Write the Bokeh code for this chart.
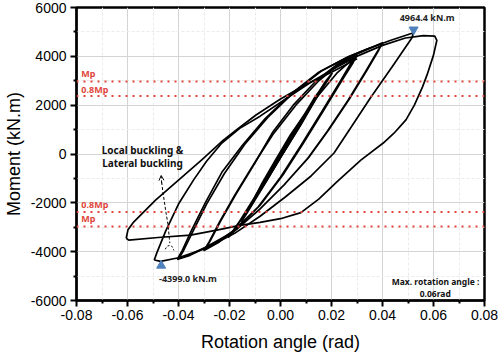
from bokeh.plotting import figure
from bokeh.models import FixedTicker, NumeralTickFormatter, Span, ColumnDataSource, Arrow, OpenHead, Range1d
from bokeh.embed import file_html
from bokeh.resources import INLINE
from bokeh.core.properties import value

# ---------------- data ----------------
x_ticks = [-0.08, -0.06, -0.04, -0.02, 0.0, 0.02, 0.04, 0.06, 0.08]
x_minor = [-0.07, -0.05, -0.03, -0.01, 0.01, 0.03, 0.05, 0.07]
y_ticks = [-6000, -4000, -2000, 0, 2000, 4000, 6000]
y_minor = [-5000, -3000, -1000, 1000, 3000, 5000]

mp = 2965.0
mp_levels = [mp, 0.8 * mp, -0.8 * mp, -mp]

# hysteresis cycles (rotation rad, moment kN.m)
c1_rot = [0.0, 0.0038, 0.0008, -0.0038, -0.0008, 0.0052, 0.0012, -0.0052, -0.0010, 0.0075, 0.0020, -0.0075, -0.0012]
c1_mom = [0, 650, 120, -680, -130, 880, 180, -900, -150, 1280, 280, -1300, -180]

c2_rot = [-0.0012, 0.004, 0.0085, 0.0102, 0.009, 0.004, -0.002, -0.007, -0.0102, -0.009, -0.004, 0.002, 0.007, 0.0100, 0.0088, 0.0035, -0.0025, -0.0075, -0.0100, -0.0088, -0.0035]
c2_mom = [-180, 720, 1480, 1720, 1560, 800, -250, -1150, -1800, -1620, -800, 200, 1100, 1680, 1500, 700, -350, -1250, -1780, -1580, -700]

c3_rot = [-0.0035, 0.002, 0.008, 0.013, 0.0152, 0.0135, 0.007, 0.0, -0.006, -0.011, -0.0152, -0.0135, -0.007, 0.0, 0.007, 0.0125, 0.0150, 0.0132, 0.0065, -0.0005, -0.0065, -0.0115, -0.0150, -0.0132, -0.006]
c3_mom = [-700, 250, 1300, 2150, 2500, 2280, 1150, -100, -1100, -2000, -2750, -2480, -1350, -150, 1050, 2050, 2450, 2220, 1050, -200, -1200, -2100, -2720, -2430, -1200]

c4_rot = [-0.006, 0.0, 0.008, 0.015, 0.0202, 0.018, 0.011, 0.003, -0.006, -0.014, -0.0203, -0.018, -0.011, -0.003, 0.005, 0.013, 0.0198, 0.0175, 0.0105, 0.0025, -0.0065, -0.0145, -0.0198, -0.0175, -0.010]
c4_mom = [-1200, -150, 1200, 2450, 3300, 3020, 1900, 450, -1150, -2450, -3400, -3100, -1950, -550, 850, 2250, 3250, 2950, 1800, 350, -1250, -2550, -3350, -3000, -1750]

c5_rot = [-0.010, -0.003, 0.006, 0.014, 0.022, 0.030, 0.0285, 0.024, 0.017, 0.009, 0.001, -0.008, -0.017, -0.024, -0.030, -0.028, -0.024, -0.018, -0.011, -0.003, 0.006, 0.015, 0.022, 0.029, 0.0275, 0.023, 0.016, 0.008, 0.0, -0.009, -0.018, -0.0245, -0.0295, -0.0275, -0.0235, -0.0175, -0.0105]
c5_mom = [-1750, -500, 1000, 2300, 3300, 4050, 3750, 3000, 1800, 450, -850, -2100, -3050, -3600, -3950, -3600, -2800, -1700, -500, 800, 2000, 3000, 3600, 4000, 3700, 2900, 1700, 350, -950, -2200, -3100, -3600, -3900, -3550, -2750, -1650, -450]

c6_rot = [-0.0105, -0.003, 0.005, 0.014, 0.022, 0.030, 0.040, 0.0385, 0.034, 0.027, 0.019, 0.011, 0.002, -0.008, -0.018, -0.029, -0.035, -0.040, -0.038, -0.0345, -0.029, -0.022, -0.014, -0.005, 0.005, 0.016, 0.027, 0.034, 0.040, 0.038, 0.0335, 0.0265, 0.0185, 0.0105, 0.0015, -0.0085, -0.0185, -0.0295, -0.0355, -0.0405]
c6_mom = [-450, 900, 2000, 3000, 3650, 4100, 4550, 4250, 3450, 2250, 1000, -150, -1200, -2250, -3150, -3800, -4100, -4300, -3950, -3200, -2050, -800, 400, 1500, 2500, 3400, 4000, 4300, 4530, 4200, 3400, 2200, 950, -200, -1250, -2300, -3200, -3850, -4150, -4320]

c7_rot = [-0.0405, -0.0385, -0.035, -0.0295, -0.023, -0.015, -0.006, 0.004, 0.015, 0.026, 0.034, 0.043, 0.0522, 0.0515, 0.044, 0.0353, 0.028, 0.021, 0.012, 0.002, -0.008, -0.018, -0.029, -0.040, -0.047, -0.0495]
c7_mom = [-4320, -3950, -3150, -2000, -750, 350, 1450, 2450, 3350, 3950, 4300, 4650, 4964.4, 4750, 3600, 2300, 1150, 40, -900, -1750, -2550, -3250, -3850, -4250, -4399.0, -4340]

c8_rot = [-0.0495, -0.0485, -0.045, -0.040, -0.034, -0.029, -0.023, -0.016, -0.008, 0.002, 0.012, 0.022, 0.031, 0.040, 0.049, 0.056, 0.0605, 0.0613, 0.0600, 0.0575, 0.0557, 0.0525, 0.0492, 0.0445, 0.0403, 0.0315, 0.022, 0.015, 0.008, 0.0, -0.008, -0.016, -0.025, -0.0353, -0.048, -0.0595, -0.0605]
c8_mom = [-4340, -4050, -3150, -2050, -1050, -300, 450, 1050, 1550, 2250, 2950, 3550, 4050, 4450, 4750, 4850, 4830, 4650, 4050, 3250, 2750, 2000, 1400, 850, 450, -250, -1150, -1850, -2400, -2650, -2800, -2920, -3115, -3320, -3420, -3525, -3450]

c9_rot = [-0.0605, -0.0598, -0.0576, -0.049, -0.040, -0.031, -0.0223, -0.0173, -0.0096, 0.0, 0.010, 0.020, 0.030]
c9_mom = [-3450, -3100, -2787, -1885, -1066, -250, 574, 984, 1598, 2250, 2850, 3350, 3900]

cycles = [(c1_rot, c1_mom), (c2_rot, c2_mom), (c3_rot, c3_mom), (c4_rot, c4_mom),
          (c5_rot, c5_mom), (c6_rot, c6_mom), (c7_rot, c7_mom), (c8_rot, c8_mom),
          (c9_rot, c9_mom)]

# peak annotations
max_rot, max_mom = 0.0522, 4964.4
min_rot, min_mom = -0.0468, -4399.0

# buckling annotation path
buck_rot = [-0.0466, -0.0462, -0.0449, -0.0441, -0.0436, -0.0434]
buck_mom = [-1150, -1500, -2400, -2900, -3450, -3650]
curl_rot = [-0.0452, -0.0445, -0.0434, -0.0424, -0.0418]
curl_mom = [-3900, -3780, -3740, -3800, -3950]

# ---------------- figure ----------------
p = figure(width=500, height=355, output_backend="svg", toolbar_location=None,
           x_range=Range1d(-0.08, 0.08), y_range=Range1d(-6000, 6000),
           min_border_left=67, min_border_right=16, min_border_top=7, min_border_bottom=55)
p.background_fill_color = "white"
p.border_fill_color = "white"
p.outline_line_color = "black"
p.outline_line_width = 2.5
p.outline_line_alpha = 1.0

AX_FONT = "Liberation Sans"
for ax, tk, mn in ((p.xaxis[0], x_ticks, x_minor), (p.yaxis[0], y_ticks, y_minor)):
    ax.ticker = FixedTicker(ticks=tk, minor_ticks=mn)
    ax.axis_line_width = 2
    ax.axis_line_color = "black"
    ax.major_tick_line_width = 2
    ax.minor_tick_line_width = 2
    ax.major_tick_in = 0
    ax.major_tick_out = 6
    ax.minor_tick_in = 0
    ax.minor_tick_out = 3
    ax.major_label_text_font = AX_FONT
    ax.major_label_text_font_size = "14px"
    ax.major_label_text_color = "black"
    ax.axis_label_text_font = AX_FONT
    ax.axis_label_text_font_size = "18px"
    ax.axis_label_text_font_style = "normal"
    ax.axis_label_text_color = "black"

p.xaxis.formatter = NumeralTickFormatter(format="0.00")
p.yaxis.formatter = NumeralTickFormatter(format="0")
p.xaxis.axis_label = "Rotation angle (rad)"
p.yaxis.axis_label = "Moment (kN.m)"
p.xaxis.major_label_standoff = 3
p.yaxis.major_label_standoff = 4
p.xaxis.axis_label_standoff = 9
p.yaxis.axis_label_standoff = 4

p.xgrid.ticker = FixedTicker(ticks=x_ticks, minor_ticks=x_minor)
p.ygrid.ticker = FixedTicker(ticks=y_ticks, minor_ticks=y_minor)
for g in (p.xgrid[0], p.ygrid[0]):
    g.grid_line_color = "#d4d4d4"
    g.grid_line_width = 1
    g.minor_grid_line_color = "#ebebeb"
    g.minor_grid_line_dash = "3 2"
    g.minor_grid_line_width = 1

# Mp reference lines
for lv in mp_levels:
    p.add_layout(Span(location=lv, dimension="width", line_color="#e0463c",
                      line_dash="2 5", line_width=2))

# hysteresis curves
for r, m in cycles:
    p.line(r, m, line_color="black", line_width=1.7, line_join="round")

# Mp labels
mp_src = ColumnDataSource(dict(
    x=[-0.0781] * 4,
    y=[mp + 330, 0.8 * mp + 260, -0.8 * mp + 320, -mp + 320],
    t=["Mp", "0.8Mp", "0.8Mp", "Mp"]))
p.text("x", "y", text="t", source=mp_src, text_color="#e0463c",
       text_font=value("Noto Sans"), text_font_style="bold", text_font_size="9px",
       text_baseline="middle", text_align="left")

# peak markers
p.scatter([max_rot], [max_mom + 130], marker="inverted_triangle", size=9, color="#4f81bd")
p.scatter([min_rot], [min_mom - 170], marker="triangle", size=9, color="#4f81bd")

ann_src = ColumnDataSource(dict(
    x=[max_rot + 0.0053, min_rot + 0.0105],
    y=[max_mom + 610, min_mom - 690],
    t=[f"{max_mom:.1f} kN.m", f"{min_mom:.1f} kN.m"]))
p.text("x", "y", text="t", source=ann_src, text_color="#222222",
       text_font=value("Noto Sans"), text_font_style="bold", text_font_size="9px",
       text_baseline="middle", text_align="center")

# buckling annotation
p.text([-0.0541, -0.0541], [160, -370], text=["Local buckling &", "Lateral buckling"],
       text_color="#111111", text_font=value("Noto Sans"), text_font_style="bold",
       text_font_size="10px", text_baseline="middle", text_align="center")
p.line(buck_rot, buck_mom, line_color="black", line_dash="3 2", line_width=1)
p.line(curl_rot, curl_mom, line_color="black", line_dash="2 2", line_width=1)
p.add_layout(Arrow(end=OpenHead(size=5, line_width=1), x_start=-0.0466, y_start=-1200,
                   x_end=-0.0468, y_end=-880, line_width=1, line_dash="3 2"))

# max rotation note
p.text([0.0608, 0.0607], [-5205, -5696], text=["Max. rotation angle :", "0.06rad"],
       text_color="#111111", text_font=value("Noto Sans"), text_font_style="bold",
       text_font_size="8.5px", text_baseline="middle", text_align="center")

open("out.html", "w").write(file_html(p, INLINE))
